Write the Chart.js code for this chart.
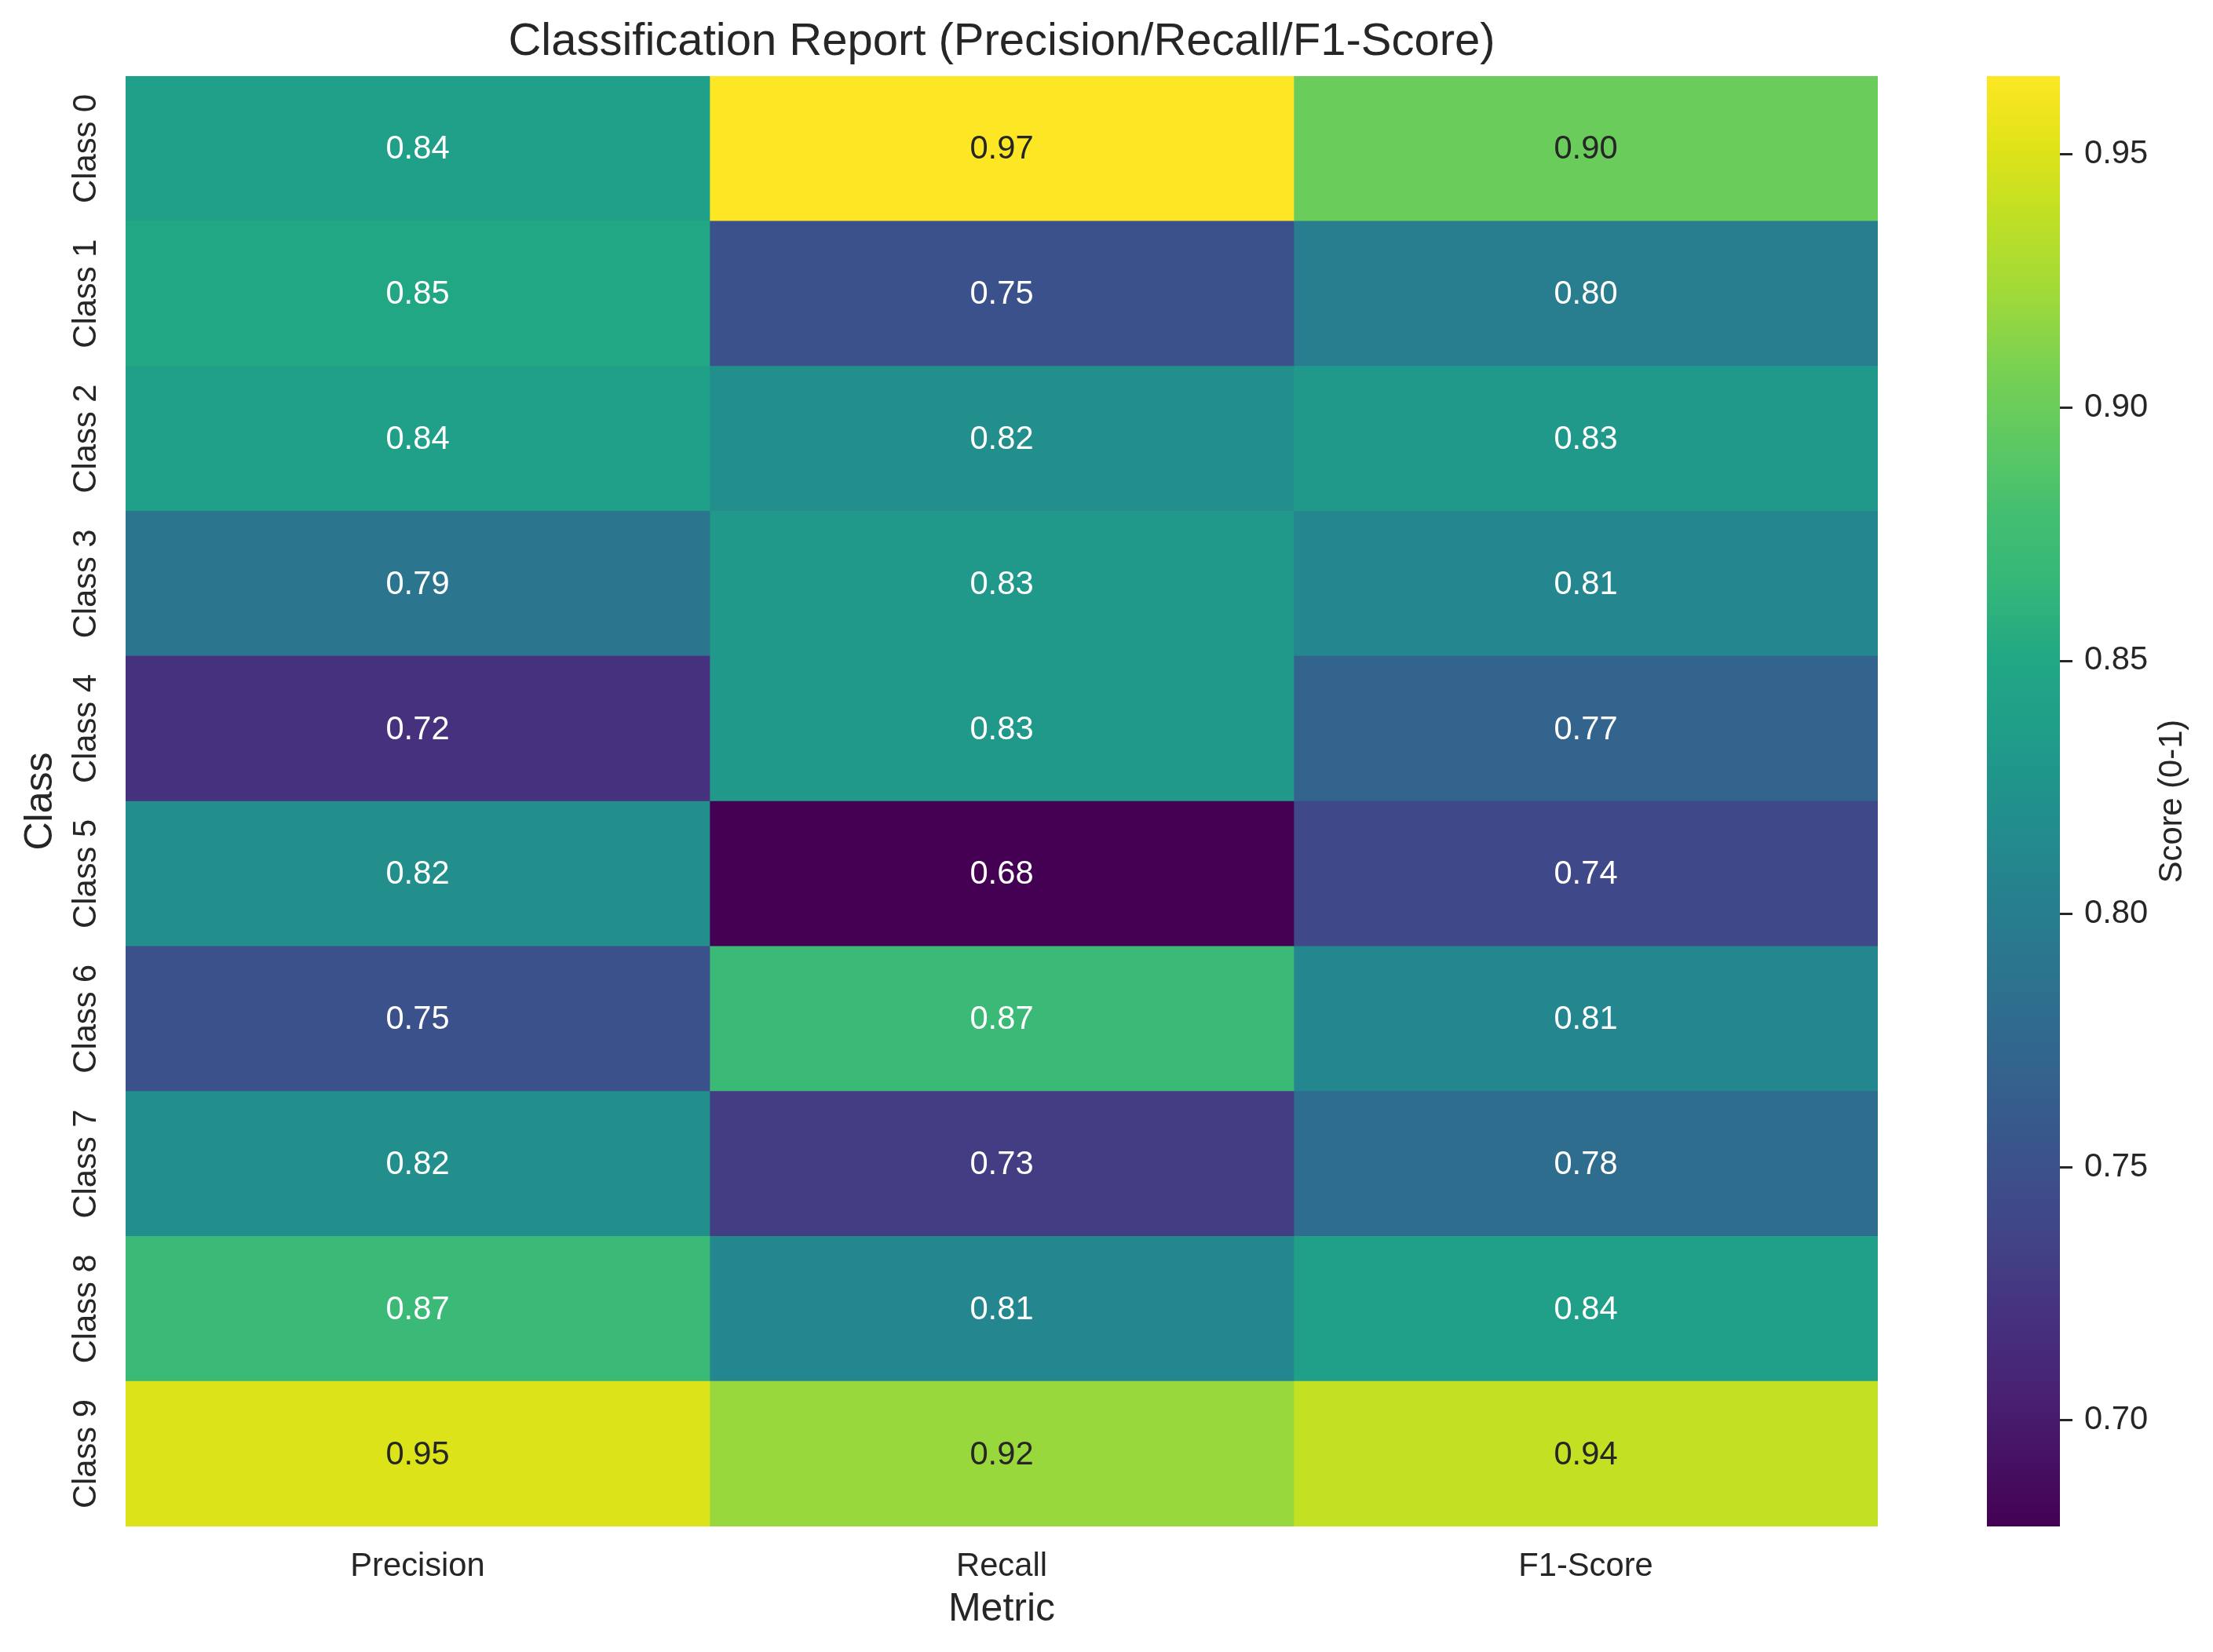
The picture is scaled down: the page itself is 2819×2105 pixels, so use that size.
<!DOCTYPE html>
<html>
<head>
<meta charset="utf-8">
<script src="https://cdn.jsdelivr.net/npm/chart.js@4.4.1/dist/chart.umd.min.js"></script>
<style>
  html, body { margin: 0; padding: 0; background: #ffffff; }
  #wrap { position: relative; width: 2819px; height: 2105px; }
  #main { position: absolute; left: 0; top: 0; }
  #cbar { position: absolute; left: 2531px; top: 0; }
</style>
</head>
<body>
<div id="wrap">
  <canvas id="main" width="2819" height="2105"></canvas>
  <canvas id="cbar" width="288" height="2105"></canvas>
</div>
<script>
// data
const classes = ['Class 0', 'Class 1', 'Class 2', 'Class 3', 'Class 4',
                 'Class 5', 'Class 6', 'Class 7', 'Class 8', 'Class 9'];
const metrics = ['Precision', 'Recall', 'F1-Score'];
const precision = [0.84, 0.85, 0.84, 0.79, 0.72, 0.82, 0.75, 0.82, 0.87, 0.95];
const recall    = [0.9655, 0.75, 0.82, 0.83, 0.83, 0.679, 0.87, 0.73, 0.81, 0.92];
const f1Score   = [0.90, 0.80, 0.83, 0.81, 0.77, 0.74, 0.81, 0.78, 0.84, 0.94];
const cbarTicks = [0.70, 0.75, 0.80, 0.85, 0.90, 0.95];

const series = [precision, recall, f1Score];
const allVals = series.flat();
const vmin = Math.min(...allVals);
const vmax = Math.max(...allVals);

const FONT = "'Liberation Sans', Arial, sans-serif";
const INK = '#262626';

// viridis, sampled every 0.05
const viridis = ['#440154', '#471365', '#482475', '#46337f', '#414487', '#3b528b',
  '#355f8d', '#2f6c8e', '#2a788e', '#25848e', '#21918c', '#1f9e89', '#22a884',
  '#35b779', '#44bf70', '#5ec962', '#7ad151', '#a0da39', '#bddf26', '#dfe318', '#fde725'];

function hexRgb(h) {
  return [parseInt(h.slice(1, 3), 16), parseInt(h.slice(3, 5), 16), parseInt(h.slice(5, 7), 16)];
}

function cmap(t) {
  t = Math.max(0, Math.min(1, t));
  const pos = t * (viridis.length - 1);
  const i = Math.min(Math.floor(pos), viridis.length - 2);
  const f = pos - i;
  const a = hexRgb(viridis[i]), b = hexRgb(viridis[i + 1]);
  return a.map((c, k) => Math.round(c + (b[k] - c) * f));
}

function colorFor(v) {
  const c = cmap((v - vmin) / (vmax - vmin));
  return 'rgb(' + c.join(',') + ')';
}

// seaborn picks dark or white annotation text from luminance
function textColorFor(v) {
  const c = cmap((v - vmin) / (vmax - vmin)).map(x => {
    x = x / 255;
    return x <= 0.03928 ? x / 12.92 : Math.pow((x + 0.055) / 1.055, 2.4);
  });
  const lum = 0.2126 * c[0] + 0.7152 * c[1] + 0.0722 * c[2];
  return lum > 0.408 ? INK : '#ffffff';
}

const annotate = {
  id: 'annotate',
  afterDatasetsDraw(chart) {
    const ctx = chart.ctx;
    ctx.save();
    ctx.font = '41.7px ' + FONT;
    ctx.textAlign = 'center';
    ctx.textBaseline = 'alphabetic';
    chart.data.datasets.forEach((ds, di) => {
      const meta = chart.getDatasetMeta(di);
      meta.data.forEach((el, i) => {
        const v = series[di][i];
        ctx.fillStyle = textColorFor(v);
        ctx.fillText(v.toFixed(2), (el.x + el.base) / 2, el.y + 13);
      });
    });
    ctx.restore();
  }
};

// rotated class labels on the y axis
const yLabels = {
  id: 'yLabels',
  afterDraw(chart) {
    const ctx = chart.ctx;
    const ys = chart.scales.y;
    ctx.save();
    ctx.font = '41.7px ' + FONT;
    ctx.fillStyle = INK;
    ctx.textAlign = 'center';
    ctx.textBaseline = 'alphabetic';
    classes.forEach((c, i) => {
      ctx.save();
      ctx.translate(ys.right - 38, ys.getPixelForTick(i));
      ctx.rotate(-Math.PI / 2);
      ctx.fillText(c, 0, 0);
      ctx.restore();
    });
    ctx.restore();
  }
};

new Chart(document.getElementById('main'), {
  type: 'bar',
  data: {
    labels: classes,
    datasets: series.map((vals, j) => ({
      label: metrics[j],
      data: vals.map(() => [j, j + 1]),
      backgroundColor: vals.map(colorFor),
      borderWidth: 0,
      borderSkipped: false,
      grouped: false,
      categoryPercentage: 1,
      barPercentage: 1
    }))
  },
  options: {
    indexAxis: 'y',
    responsive: false,
    animation: false,
    devicePixelRatio: 1,
    layout: { padding: { left: 0, right: 427, top: 0, bottom: 0 } },
    plugins: {
      legend: { display: false },
      tooltip: { enabled: false },
      title: {
        display: true,
        text: 'Classification Report (Precision/Recall/F1-Score)',
        fullSize: false,
        color: INK,
        font: { family: FONT, size: 58, weight: 'normal' },
        padding: { top: 19, bottom: 8.4 }
      }
    },
    scales: {
      x: {
        type: 'linear',
        min: 0,
        max: 3,
        afterBuildTicks: s => { s.ticks = metrics.map((m, i) => ({ value: i + 0.5 })); },
        afterFit: s => { s.height = 160; },
        grid: { display: false, drawTicks: false },
        border: { display: false },
        ticks: {
          color: INK,
          font: { family: FONT, size: 41.7 },
          padding: 26,
          maxRotation: 0,
          callback: (v, i) => metrics[i]
        },
        title: {
          display: true,
          text: 'Metric',
          color: INK,
          font: { family: FONT, size: 50 },
          padding: { top: 0, bottom: 24 }
        }
      },
      y: {
        type: 'category',
        offset: true,
        afterFit: s => { s.width = 160; },
        grid: { display: false, drawTicks: false },
        border: { display: false },
        ticks: { display: false },
        title: {
          display: true,
          text: 'Class',
          color: INK,
          font: { family: FONT, size: 50 },
          padding: { top: 22, bottom: 0 }
        }
      }
    }
  },
  plugins: [annotate, yLabels]
});

// colour bar
const cbarTitle = {
  id: 'cbarTitle',
  afterDraw(chart) {
    const ctx = chart.ctx;
    const a = chart.chartArea;
    ctx.save();
    ctx.font = '41.7px ' + FONT;
    ctx.fillStyle = INK;
    ctx.textAlign = 'center';
    ctx.textBaseline = 'alphabetic';
    ctx.translate(248, (a.top + a.bottom) / 2);
    ctx.rotate(-Math.PI / 2);
    ctx.fillText('Score (0-1)', 0, 0);
    ctx.restore();
  }
};

new Chart(document.getElementById('cbar'), {
  type: 'bar',
  data: {
    labels: [''],
    datasets: [{
      data: [[vmin, vmax]],
      backgroundColor: c => {
        const ch = c.chart;
        const ys = ch.scales.y;
        if (!ys || !ch.chartArea) return colorFor((vmin + vmax) / 2);
        const g = ch.ctx.createLinearGradient(0, ys.getPixelForValue(vmin), 0, ys.getPixelForValue(vmax));
        viridis.forEach((h, i) => g.addColorStop(i / (viridis.length - 1), h));
        return g;
      },
      borderWidth: 0,
      borderSkipped: false,
      categoryPercentage: 1,
      barPercentage: 1
    }]
  },
  options: {
    responsive: false,
    animation: false,
    devicePixelRatio: 1,
    layout: { padding: { left: 0, right: 0, top: 97, bottom: 160 } },
    plugins: { legend: { display: false }, tooltip: { enabled: false } },
    scales: {
      x: { display: false },
      y: {
        position: 'right',
        min: vmin,
        max: vmax,
        afterBuildTicks: s => { s.ticks = cbarTicks.map(v => ({ value: v })); },
        afterFit: s => { s.width = 195; },
        grid: {
          display: true,
          drawOnChartArea: false,
          drawTicks: true,
          tickLength: 16,
          tickColor: INK,
          tickWidth: 3
        },
        border: { display: false },
        ticks: {
          color: INK,
          font: { family: FONT, size: 41.7 },
          padding: 15,
          callback: v => v.toFixed(2)
        }
      }
    }
  },
  plugins: [cbarTitle]
});
</script>
</body>
</html>
